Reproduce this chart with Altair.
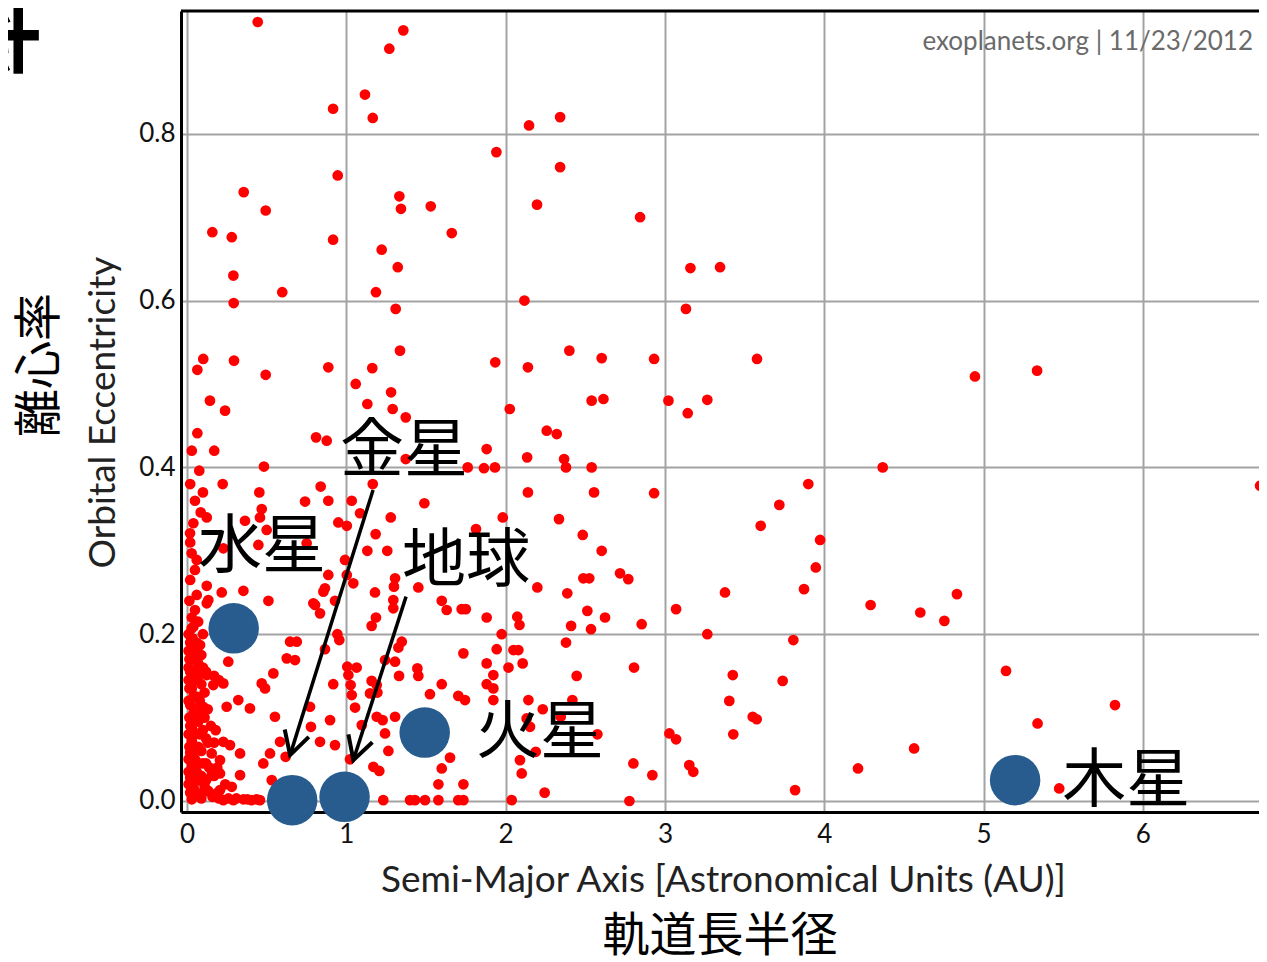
import altair as alt
import pandas as pd

# ---- exoplanets (semi-major axis [AU], eccentricity) ----
exo_a = [
    0.444, 1.358, 1.270, 1.117, 0.917, 1.166, 2.147, 2.342, 1.942, 0.946, 0.356, 1.333, 1.343, 1.530,
    0.494, 0.159, 0.281, 1.662, 0.917, 1.222, 1.323, 0.291, 0.598, 1.186, 2.118, 0.293, 2.197, 2.342,
    2.844, 3.160, 3.346, 3.132, 3.578,
    2.140, 2.400, 2.603, 2.932, 2.258, 2.321, 2.540, 2.614, 3.022, 3.143, 3.266, 2.135, 2.367, 2.379,
    2.540, 2.140, 2.555, 2.932, 2.335, 2.484, 2.603, 3.900, 3.718, 3.601, 3.974,
    2.199, 2.387, 2.488, 2.525, 2.718, 2.770, 2.513, 2.624, 2.411, 2.536, 2.854, 2.379, 2.806, 2.446,
    2.419, 2.233, 2.346, 2.576, 2.189, 2.802, 2.921, 2.245, 2.777, 3.377, 3.070, 3.266, 3.873, 3.947,
    3.806, 3.426, 3.739, 3.404, 3.551, 3.576, 3.429, 3.028, 3.070, 3.153, 3.178, 3.817,
    4.946, 5.336, 4.367, 6.736, 4.291, 4.603, 4.754, 4.833, 5.141, 5.825, 5.339, 4.564, 4.212, 5.475,
    1.310, 0.102, 0.065, 0.295, 0.494, 0.887, 1.337, 1.163, 1.935, 1.059, 1.281, 1.132, 1.291, 1.373,
    2.026, 0.144, 0.239, 0.065, 0.810, 0.877, 0.171, 1.881, 1.373, 0.077, 0.483, 1.762, 1.864, 1.933,
    0.224, 1.166, 0.454, 0.839, 0.741, 0.887, 1.034, 1.490, 0.469, 0.458, 1.086, 1.279, 1.982, 0.086,
    0.124, 0.364, 0.500, 0.950, 1.003, 1.814, 0.040, 0.019, 0.448, 1.184, 1.132, 1.257,
    0.029, 0.061, 0.050, 0.751, 0.228, 0.992, 1.180, 1.044, 0.856, 0.887, 0.793, 0.929, 0.511, 0.354,
    0.218, 0.124, 0.061, 0.134,
    1.003, 0.866, 1.306, 1.299, 1.452, 0.804, 0.835, 1.295, 1.295, 1.599, 1.630, 1.724, 1.750, 1.881,
    2.073, 2.087, 1.186, 1.159, 0.944, 0.956, 1.975, 1.348, 1.327, 1.735, 1.944, 2.049, 2.080, 0.866,
    1.243, 1.306, 1.006, 1.065, 1.446, 1.452, 1.331, 1.881, 2.018, 2.107, 1.923, 0.918, 1.013, 1.027,
    1.159, 1.191, 1.149, 1.195, 1.599, 1.525, 1.881, 1.923, 1.034, 1.703, 1.745, 1.923, 2.143, 1.055,
    0.772, 0.898, 1.191, 1.228, 1.306, 0.778, 1.097, 1.243, 2.132, 2.153, 0.929, 1.264, 1.023, 1.170,
    1.207, 1.599, 1.651, 1.578, 1.735, 2.101, 2.090, 1.232, 1.400, 1.431, 1.494, 1.578, 1.703, 1.735,
    2.038,
    0.050, 0.040, 0.647, 0.689, 0.626, 0.678, 0.259, 0.542, 0.469, 0.490, 0.124, 0.165, 0.249, 0.322,
    0.395, 0.552, 0.228, 0.270, 0.333, 0.521, 0.479, 0.584, 0.619, 0.333, 0.532, 0.281, 0.207, 0.354,
    0.438, 0.835,
    0.029, 0.082, 0.228, 0.102, 0.082, 0.155, 0.207, 0.155, 0.207, 0.134, 0.186, 0.405, 0.458, 0.228,
    0.291, 0.124, 0.020,
    0.020, 0.050, 0.030, 0.070, 0.020, 0.050, 0.090, 0.030, 0.060, 0.020, 0.040, 0.070, 0.020, 0.050,
    0.100, 0.030, 0.070, 0.020, 0.050, 0.100, 0.030, 0.060, 0.020, 0.080, 0.040, 0.110, 0.020, 0.060,
    0.090, 0.030, 0.120, 0.130, 0.110, 0.150, 0.180, 0.090, 0.015, 0.015, 0.015, 0.015, 0.040, 0.170,
    0.080, 0.120, 0.170, 0.200,
    0.010, 0.035, 0.060, 0.010, 0.040, 0.090, 0.010, 0.035, 0.100, 0.010, 0.070, 0.110, 0.040, 0.080,
    0.010, 0.130, 0.050, 0.090, 0.010, 0.035, 0.080, 0.120, 0.170, 0.010, 0.035, 0.075, 0.140, 0.190,
    0.010, 0.045, 0.090, 0.120, 0.240, 0.010, 0.050, 0.100, 0.160, 0.200, 0.260, 0.310, 0.380, 0.030,
    0.070, 0.100, 0.015, 0.020, 0.050, 0.020, 0.030, 0.100,
]
exo_e = [
    0.934, 0.924, 0.902, 0.847, 0.830, 0.819, 0.810, 0.820, 0.778, 0.750, 0.730, 0.725, 0.710, 0.713,
    0.708, 0.682, 0.676, 0.681, 0.673, 0.661, 0.640, 0.630, 0.610, 0.610, 0.600, 0.597, 0.715, 0.760,
    0.700, 0.639, 0.640, 0.590, 0.530,
    0.520, 0.540, 0.531, 0.530, 0.444, 0.440, 0.480, 0.482, 0.480, 0.465, 0.481, 0.412, 0.410, 0.400,
    0.400, 0.370, 0.370, 0.369, 0.338, 0.319, 0.300, 0.380, 0.355, 0.330, 0.313,
    0.256, 0.249, 0.267, 0.267, 0.273, 0.266, 0.228, 0.220, 0.210, 0.206, 0.212, 0.190, 0.160, 0.150,
    0.121, 0.110, 0.101, 0.080, 0.059, 0.045, 0.031, 0.010, 0.000, 0.250, 0.230, 0.200, 0.254, 0.280,
    0.193, 0.151, 0.144, 0.120, 0.101, 0.098, 0.080, 0.081, 0.074, 0.043, 0.035, 0.013,
    0.509, 0.516, 0.400, 0.378, 0.235, 0.226, 0.216, 0.248, 0.156, 0.115, 0.093, 0.063, 0.039, 0.015,
    0.590, 0.530, 0.517, 0.528, 0.511, 0.520, 0.540, 0.519, 0.526, 0.500, 0.490, 0.476, 0.470, 0.460,
    0.470, 0.480, 0.468, 0.441, 0.436, 0.432, 0.420, 0.422, 0.410, 0.396, 0.401, 0.400, 0.399, 0.400,
    0.380, 0.380, 0.370, 0.377, 0.359, 0.360, 0.360, 0.357, 0.350, 0.340, 0.345, 0.340, 0.340, 0.346,
    0.340, 0.336, 0.325, 0.334, 0.330, 0.326, 0.333, 0.321, 0.307, 0.320, 0.300, 0.300,
    0.297, 0.289, 0.277, 0.309, 0.303, 0.289, 0.250, 0.261, 0.251, 0.271, 0.237, 0.240, 0.240, 0.252,
    0.250, 0.258, 0.247, 0.241,
    0.271, 0.255, 0.267, 0.257, 0.256, 0.235, 0.225, 0.241, 0.231, 0.240, 0.229, 0.230, 0.230, 0.220,
    0.221, 0.211, 0.220, 0.210, 0.200, 0.193, 0.200, 0.191, 0.184, 0.177, 0.182, 0.181, 0.181, 0.182,
    0.169, 0.167, 0.161, 0.160, 0.159, 0.150, 0.150, 0.165, 0.160, 0.165, 0.151, 0.140, 0.151, 0.139,
    0.144, 0.139, 0.129, 0.130, 0.140, 0.128, 0.140, 0.135, 0.127, 0.126, 0.121, 0.121, 0.121, 0.112,
    0.113, 0.097, 0.101, 0.097, 0.101, 0.089, 0.091, 0.081, 0.099, 0.089, 0.067, 0.060, 0.050, 0.041,
    0.036, 0.039, 0.052, 0.020, 0.020, 0.033, 0.049, 0.001, 0.001, 0.001, 0.001, 0.001, 0.001, 0.001,
    0.001,
    0.229, 0.209, 0.191, 0.191, 0.171, 0.169, 0.167, 0.153, 0.141, 0.135, 0.151, 0.139, 0.113, 0.121,
    0.111, 0.101, 0.071, 0.067, 0.057, 0.057, 0.045, 0.071, 0.053, 0.031, 0.025, 0.017, 0.013, 0.002,
    0.002, 0.071,
    0.207, 0.187, 0.141, 0.113, 0.101, 0.057, 0.049, 0.031, 0.033, 0.012, 0.009, 0.001, 0.001, 0.001,
    0.001, 0.237, 0.265,
    0.190, 0.180, 0.170, 0.165, 0.155, 0.145, 0.140, 0.135, 0.125, 0.115, 0.105, 0.095, 0.090, 0.080,
    0.085, 0.072, 0.065, 0.058, 0.050, 0.045, 0.042, 0.035, 0.028, 0.025, 0.018, 0.018, 0.010, 0.008,
    0.003, 0.002, 0.045, 0.070, 0.100, 0.090, 0.085, 0.060, 0.065, 0.100, 0.135, 0.170, 0.060, 0.030,
    0.160, 0.155, 0.150, 0.145,
    0.200, 0.195, 0.190, 0.180, 0.175, 0.175, 0.160, 0.155, 0.160, 0.145, 0.150, 0.130, 0.125, 0.120,
    0.120, 0.110, 0.110, 0.105, 0.080, 0.085, 0.080, 0.075, 0.070, 0.050, 0.055, 0.045, 0.040, 0.040,
    0.035, 0.030, 0.030, 0.025, 0.020, 0.020, 0.012, 0.010, 0.005, 0.003, 0.003, 0.003, 0.002, 0.220,
    0.215, 0.200, 0.240, 0.310, 0.360, 0.380, 0.420, 0.370,
]

# ---- solar-system planets ----
planet_names = ["水星", "金星", "地球", "火星", "木星"]
planet_a = [0.293, 0.660, 0.989, 1.492, 5.198]
planet_e = [0.207, 0.001, 0.005, 0.082, 0.025]

# ---- planet labels ----
label_a = [0.471, 1.362, 1.751, 2.216, 5.895]
label_e = [0.303, 0.418, 0.287, 0.080, 0.023]

# ---- arrows (from label to planet) ----
arrow_a0 = [1.168, 1.375]
arrow_e0 = [0.373, 0.245]
arrow_a1 = [0.647, 1.044]
arrow_e1 = [0.055, 0.049]
arrow_angle = [17, 18]

x_ticks = [0, 1, 2, 3, 4, 5, 6]
y_ticks = [0.0, 0.2, 0.4, 0.6, 0.8]

W, H = 1078, 801
FONT = "Lato"
JP = "Noto Sans CJK JP"

xs = alt.Scale(domain=[-0.0377, 6.729], nice=False, zero=False)
ys = alt.Scale(domain=[-0.0132, 0.9472], nice=False, zero=False)

x_axis = alt.Axis(
    values=x_ticks, format="d", title="Semi-Major Axis [Astronomical Units (AU)]",
    titleX=542, titleY=68, titleAlign="center", titleBaseline="middle",
)
y_axis = alt.Axis(
    values=y_ticks, format=".1f", title="Orbital Eccentricity",
    titleX=-78, titleY=401, titleAngle=270, titleAlign="center", titleBaseline="middle",
)

X = alt.X("a:Q", scale=xs, axis=x_axis)
Y = alt.Y("e:Q", scale=ys, axis=y_axis)

exo = pd.DataFrame({"a": exo_a, "e": exo_e})
planets = pd.DataFrame({"a": planet_a, "e": planet_e, "name": planet_names})
labels = pd.DataFrame({"a": label_a, "e": label_e, "name": planet_names})
arrows = pd.DataFrame({"a": arrow_a0, "e": arrow_e0, "a2": arrow_a1, "e2": arrow_e1})
heads = pd.DataFrame({"a": arrow_a1, "e": arrow_e1, "ang": arrow_angle})
one = pd.DataFrame({"k": [0]})

pts = alt.Chart(exo).mark_circle(color="#ff0000", opacity=1, size=115).encode(x=X, y=Y)

big = alt.Chart(planets).mark_circle(color="#285c8e", opacity=1, size=2550).encode(x=X, y=Y)

lab = alt.Chart(labels).mark_text(
    font=JP, fontSize=64, color="black", align="center", baseline="middle"
).encode(x=X, y=Y, text="name:N")

shafts = alt.Chart(arrows).mark_rule(color="black", strokeWidth=3.5).encode(
    x=X, y=Y, x2="a2:Q", y2="e2:Q"
)

tips = alt.Chart(heads).mark_point(
    shape="M -0.55 -1 L 0 0 L 0.55 -1", filled=False, color="black",
    strokeWidth=4, size=2100, opacity=1
).encode(x=X, y=Y, angle=alt.Angle("ang:Q", scale=None))

top_frame = alt.Chart(one).mark_rule(color="black", strokeWidth=3).encode(
    x=alt.value(0), x2=alt.value(W), y=alt.value(0)
)

watermark = alt.Chart(one).mark_text(
    text="exoplanets.org | 11/23/2012", font=FONT, fontSize=26, color="#6a6a6a",
    align="right", baseline="alphabetic"
).encode(x=alt.value(1072), y=alt.value(39))

ytitle_jp = alt.Chart(one).mark_text(
    text="離心率", font=JP, fontSize=48, color="black", angle=270,
    align="center", baseline="middle"
).encode(x=alt.value(-140), y=alt.value(354))

xtitle_jp = alt.Chart(one).mark_text(
    text="軌道長半径", font=JP, fontSize=47, color="black",
    align="center", baseline="middle"
).encode(x=alt.value(539), y=alt.value(926))

corner = alt.Chart(one).mark_text(
    text="率", font=JP, fontSize=86, fontWeight="bold", color="black", angle=270,
    align="center", baseline="middle"
).encode(x=alt.value(-176), y=alt.value(24))

chart = alt.layer(
    pts, big, lab, shafts, tips, top_frame, watermark, ytitle_jp, xtitle_jp, corner
).properties(
    width=W, height=H,
    autosize=alt.AutoSizeParams(type="none"),
    padding={"left": 173, "top": 3, "right": 0, "bottom": 148},
).configure_view(
    strokeOpacity=0
).configure_axis(
    grid=True, gridColor="#a3a3a3", gridWidth=2,
    domainColor="black", domainWidth=3,
    ticks=False,
    labelFont=FONT, labelFontSize=26, labelColor="#111",
    titleFont=FONT, titleFontSize=37, titleFontWeight="normal", titleColor="#222",
).configure_axisX(
    labelPadding=9
).configure_axisY(
    labelPadding=6
)

chart.save("out.html", embed_options={"renderer": "svg", "actions": False})
